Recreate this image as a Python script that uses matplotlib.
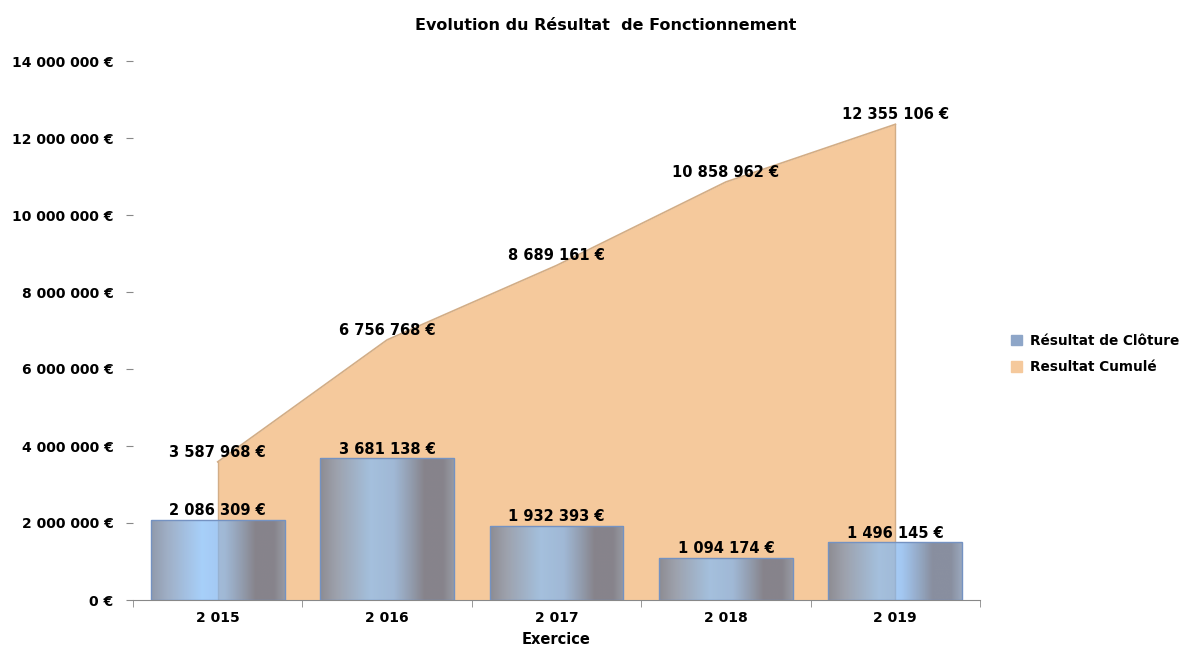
import numpy as np
import matplotlib.pyplot as plt
from matplotlib.colors import LinearSegmentedColormap
from matplotlib.ticker import FuncFormatter

# data
years = ["2015", "2016", "2017", "2018", "2019"]
resultat_cloture = [2086309, 3681138, 1932393, 1094174, 1496145]
resultat_cumule = [3587968, 6756768, 8689161, 10858962, 12355106]


def euro(v):
    return "{:,.0f} €".format(v).replace(",", " ")


def year_lbl(y):
    return y[0] + " " + y[1:]


plt.rcParams['font.family'] = ['DejaVu Sans']
plt.rcParams['font.weight'] = 'bold'

fig = plt.figure(figsize=(11.95, 6.55), dpi=100)
ax = fig.add_axes([133 / 1195, 55 / 655, 847 / 1195, 539 / 655])

x = np.arange(len(years))

# cumulated area behind the bars
ax.fill_between(x, resultat_cumule, 0, color="#f5c99c", zorder=1, linewidth=0)
ax.plot(x, resultat_cumule, color="#d2ad86", lw=1.2, zorder=2)
ax.plot([x[0], x[0]], [0, resultat_cumule[0]], color="#d2ad86", lw=1, zorder=2)
ax.plot([x[-1], x[-1]], [0, resultat_cumule[-1]], color="#d2ad86", lw=1, zorder=2)

# bars with a horizontal gradient, a bit transparent
grad = LinearSegmentedColormap.from_list("cyl", [
    (0.0, (0.42, 0.47, 0.56, 0.75)),
    (0.12, (0.50, 0.58, 0.70, 0.75)),
    (0.38, (0.52, 0.74, 0.97, 0.72)),
    (0.55, (0.50, 0.70, 0.93, 0.72)),
    (0.78, (0.42, 0.45, 0.53, 0.80)),
    (0.92, (0.42, 0.45, 0.53, 0.80)),
    (1.0, (0.47, 0.54, 0.65, 0.75)),
])
w = 0.79
bars = ax.bar(x, resultat_cloture, width=w, facecolor="none",
              edgecolor="#7492c2", linewidth=1.0, zorder=4)
for b in bars:
    x0, y1 = b.get_x(), b.get_height()
    im = ax.imshow(np.linspace(0, 1, 256).reshape(1, -1), cmap=grad,
                   extent=[x0, x0 + w, 0, y1], aspect="auto", zorder=3,
                   interpolation="bilinear")
    im.set_clip_path(b)

# value labels
for xi, v in zip(x, resultat_cumule):
    ax.annotate(euro(v), (xi, v), xytext=(0, 1.5), textcoords="offset points",
                ha="center", va="bottom", fontsize=10.5, fontweight="bold", zorder=6)
for xi, v in zip(x, resultat_cloture):
    ax.annotate(euro(v), (xi, v), xytext=(0, 1.0), textcoords="offset points",
                ha="center", va="bottom", fontsize=10.5, fontweight="bold", zorder=6)

ax.set_xlim(-0.5, len(years) - 0.5)
ax.set_ylim(0, 14000000)
ax.set_yticks(np.arange(0, 14000001, 2000000))
ax.yaxis.set_major_formatter(FuncFormatter(lambda v, p: euro(v)))
ax.set_xticks(x)
ax.set_xticklabels([year_lbl(y) for y in years])
ax.set_xticks(np.arange(-0.5, len(years)), minor=True)
ax.tick_params(axis="x", which="major", length=0, pad=8, labelsize=10)
ax.tick_params(axis="x", which="minor", length=5, color="#888888")
ax.tick_params(axis="y", length=5, color="#888888", pad=9, labelsize=10)

for s in ["top", "right", "left"]:
    ax.spines[s].set_visible(False)
ax.spines["bottom"].set_color("#888888")

ax.set_xlabel("Exercice", fontsize=10.5, fontweight="bold", labelpad=5)
fig.text(606 / 1195, 1 - 25 / 655, "Evolution du Résultat  de Fonctionnement",
         ha="center", va="center", fontsize=11.5, fontweight="bold")

handles = [plt.Rectangle((0, 0), 1, 1, color="#8ea6c8"),
           plt.Rectangle((0, 0), 1, 1, color="#f5c99c")]
fig.legend(handles, ["Résultat de Clôture", "Resultat Cumulé"],
           loc="center left", bbox_to_anchor=(1000 / 1195, 1 - 354 / 655),
           frameon=False, fontsize=9.8, handlelength=0.8, handleheight=0.8,
           handletextpad=0.6, labelspacing=0.9, borderpad=0.3)

fig.savefig("out.png", dpi=100)
